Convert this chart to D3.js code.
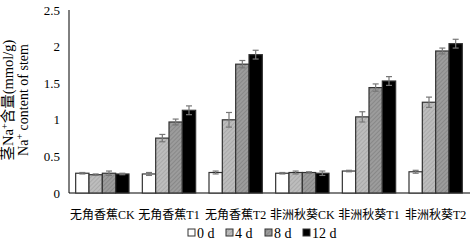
<!DOCTYPE html>
<html><head><meta charset="utf-8">
<script src="https://cdn.jsdelivr.net/npm/d3@7"></script>
<style>body{margin:0;background:#fff}svg{display:block}</style>
</head><body>
<svg id="c" width="472" height="241"></svg>
<script>
const categories = ["无角香蕉CK","无角香蕉T1","无角香蕉T2","非洲秋葵CK","非洲秋葵T1","非洲秋葵T2"];
const seriesNames = ["0 d","4 d","8 d","12 d"];
const v0d  = [0.27, 0.26, 0.28, 0.27, 0.30, 0.29];
const v4d  = [0.25, 0.75, 1.00, 0.28, 1.04, 1.24];
const v8d  = [0.27, 0.97, 1.76, 0.28, 1.44, 1.94];
const v12d = [0.26, 1.13, 1.89, 0.27, 1.53, 2.04];
const e0d  = [0.01, 0.02, 0.02, 0.01, 0.01, 0.02];
const e4d  = [0.01, 0.05, 0.10, 0.02, 0.07, 0.07];
const e8d  = [0.03, 0.04, 0.05, 0.01, 0.05, 0.04];
const e12d = [0.01, 0.06, 0.06, 0.03, 0.06, 0.06];
const yTicks = [0, 0.5, 1, 1.5, 2, 2.5];

const values = [v0d, v4d, v8d, v12d];
const errs = [e0d, e4d, e8d, e12d];
const fills = ["#ffffff", "url(#p1)", "url(#p2)", "#000000"];
const serif = "'Liberation Serif','Times New Roman','Noto Sans CJK SC',serif";

const svg = d3.select("#c");
const defs = svg.append("defs");
function pat(id, base, line){
  const p = defs.append("pattern").attr("id", id).attr("patternUnits","userSpaceOnUse")
    .attr("width",3).attr("height",3).attr("patternTransform","rotate(45)");
  p.append("rect").attr("width",3).attr("height",3).attr("fill",base);
  p.append("rect").attr("width",1).attr("height",3).attr("fill",line);
}
pat("p1", "#bdbdbd", "#aaaaaa");
pat("p2", "#9c9c9c", "#888888");

const x0 = d3.scaleBand().domain(categories).range([69, 469]).paddingInner(0.2).paddingOuter(0.1);
const x1 = d3.scaleBand().domain(d3.range(4)).range([0, x0.bandwidth()]);
const y = d3.scaleLinear().domain([0, 2.5]).range([193, 10]);

// axes
svg.append("line").attr("x1",69).attr("x2",69).attr("y1",y(2.5)).attr("y2",y(0)).attr("stroke","#000").attr("stroke-width",1);
svg.append("line").attr("x1",69).attr("x2",470).attr("y1",y(0)).attr("y2",y(0)).attr("stroke","#000").attr("stroke-width",1);

svg.append("g").selectAll("text").data(yTicks).join("text")
  .attr("x", 60).attr("y", d => y(d)).attr("dy","0.35em").attr("text-anchor","end")
  .attr("font-family", serif).attr("font-size", 13).attr("fill","#000")
  .text(d => d);

// bars
const bw = x1.bandwidth();
values.forEach((arr, s) => {
  const g = svg.append("g");
  g.selectAll("rect").data(arr).join("rect")
    .attr("x", (d,i) => x0(categories[i]) + x1(s))
    .attr("y", d => y(d))
    .attr("width", bw)
    .attr("height", d => y(0) - y(d))
    .attr("fill", fills[s])
    .attr("stroke", "#333").attr("stroke-width", 1.2);
});
// error bars
values.forEach((arr, s) => {
  const g = svg.append("g").attr("stroke","#777").attr("stroke-width",1.2);
  arr.forEach((d,i) => {
    const cx = x0(categories[i]) + x1(s) + bw/2;
    const e = errs[s][i];
    g.append("line").attr("x1",cx).attr("x2",cx).attr("y1",y(d+e)).attr("y2",y(d-e));
    g.append("line").attr("x1",cx-3).attr("x2",cx+3).attr("y1",y(d+e)).attr("y2",y(d+e));
    g.append("line").attr("x1",cx-3).attr("x2",cx+3).attr("y1",y(d-e)).attr("y2",y(d-e));
  });
});

// category labels
svg.append("g").selectAll("text").data(categories).join("text")
  .attr("x", d => x0(d) + x0.bandwidth()/2).attr("y", 215).attr("dy","0.35em")
  .attr("text-anchor","middle").attr("font-family", serif).attr("font-size", 12).attr("fill","#000")
  .text(d => d);

// y title
const yt = svg.append("text").attr("transform","translate(13,100) rotate(-90)")
  .attr("text-anchor","middle").attr("font-family", serif).attr("font-size", 14.5).attr("fill","#000");
yt.append("tspan").text("茎Na");
yt.append("tspan").attr("font-size",10).attr("dy",-5).text("+");
yt.append("tspan").attr("dy",5).text("含量(mmol/g)");
const yt2 = svg.append("text").attr("transform","translate(28,100) rotate(-90)")
  .attr("text-anchor","middle").attr("font-family", serif).attr("font-size", 14).attr("fill","#000");
yt2.append("tspan").text("Na");
yt2.append("tspan").attr("font-size",10).attr("dy",-5).text("+");
yt2.append("tspan").attr("dy",5).text(" content of stem");

// legend
const legX = [188, 226, 265, 303];
const lg = svg.append("g");
seriesNames.forEach((n, s) => {
  lg.append("rect").attr("x", legX[s]).attr("y", 229).attr("width", 7).attr("height", 7)
    .attr("fill", fills[s]).attr("stroke","#333").attr("stroke-width",1);
  lg.append("text").attr("x", legX[s] + 9).attr("y", 233).attr("dy","0.35em")
    .attr("font-family", serif).attr("font-size", 14).attr("fill","#000").text(n);
});
</script>
</body></html>
